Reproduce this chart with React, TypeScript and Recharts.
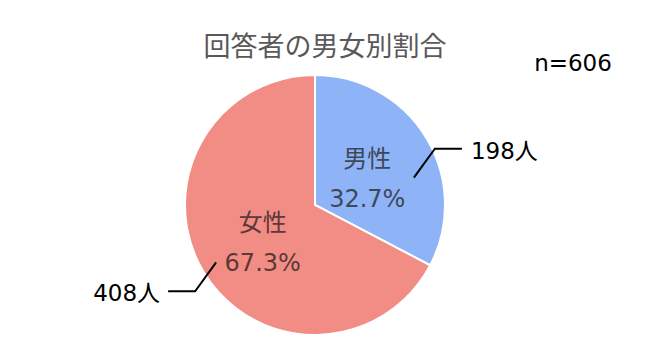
import React from "react";
import { PieChart, Pie, Cell } from "recharts";

const categories = ["男性", "女性"];
const counts = [198, 408];
const total = 606;
const titleText = "回答者の男女別割合";
const unit = "人";

const sliceColors = ["#8EB4F7", "#F18D85"];
const innerTextColors = ["#3E4859", "#5C3836"];

const data = categories.map((name, i) => ({ name, value: counts[i] }));

const FONT = "'DejaVu Sans', 'Noto Sans CJK JP', sans-serif";
const RAD = Math.PI / 180;

const polar = (cx: number, cy: number, r: number, deg: number) => ({
  x: cx + r * Math.cos(deg * RAD),
  y: cy - r * Math.sin(deg * RAD),
});

const renderLabel = (props: any) => {
  const { cx, cy, midAngle, outerRadius, percent, name, value, index } = props;
  const inner = polar(cx, cy, outerRadius * 0.47, midAngle);
  const right = Math.cos(midAngle * RAD) >= 0;
  const s = right ? 1 : -1;
  // elbow of the leader line just outside the rim, dropped a little below the radial direction
  const base = polar(cx, cy, outerRadius * 1.06, midAngle);
  const elbow = { x: base.x + 2 * s, y: base.y + 15 };
  const start = { x: elbow.x - 21 * s, y: elbow.y + 29 * s };
  const endX = elbow.x + 27 * s;
  const textX = endX + (right ? 9 : -8);
  const pct = (percent * 100).toFixed(1) + "%";
  return (
    <g>
      <text
        x={inner.x}
        y={inner.y - 14}
        textAnchor="middle"
        dominantBaseline="central"
        fontFamily={FONT}
        fontSize={24}
        fill={innerTextColors[index]}
      >
        {name}
      </text>
      <text
        x={inner.x}
        y={inner.y + 26}
        textAnchor="middle"
        dominantBaseline="central"
        fontFamily={FONT}
        fontSize={24}
        fill={innerTextColors[index]}
      >
        {pct}
      </text>
      <polyline
        points={`${start.x},${start.y} ${elbow.x},${elbow.y} ${endX},${elbow.y}`}
        fill="none"
        stroke="#000"
        strokeWidth={2}
      />
      <text
        x={textX}
        y={elbow.y + 2}
        textAnchor={right ? "start" : "end"}
        dominantBaseline="central"
        fontFamily={FONT}
        fontSize={23}
        fill="#000"
      >
        {value}
        {unit}
      </text>
    </g>
  );
};

export default function App() {
  return (
    <div style={{ position: "absolute", left: 0, top: 0, width: 650, height: 346, background: "#fff" }}>
      <PieChart width={650} height={346} margin={{ top: 0, right: 0, bottom: 0, left: 0 }}>
        <text
          x={325}
          y={44}
          textAnchor="middle"
          dominantBaseline="central"
          fontFamily="'Noto Sans CJK JP', sans-serif"
          fontSize={27}
          fill="#595959"
        >
          {titleText}
        </text>
        <text
          x={573}
          y={63}
          textAnchor="middle"
          dominantBaseline="central"
          fontFamily={FONT}
          fontSize={23}
          fill="#000"
        >
          {`n=${total}`}
        </text>
        <Pie
          data={data}
          dataKey="value"
          nameKey="name"
          cx={315}
          cy={205}
          outerRadius={130}
          startAngle={90}
          endAngle={-270}
          stroke="#fff"
          strokeWidth={2}
          label={renderLabel}
          labelLine={false}
          isAnimationActive={false}
        >
          {data.map((d, i) => (
            <Cell key={d.name} fill={sliceColors[i]} />
          ))}
        </Pie>
      </PieChart>
    </div>
  );
}
